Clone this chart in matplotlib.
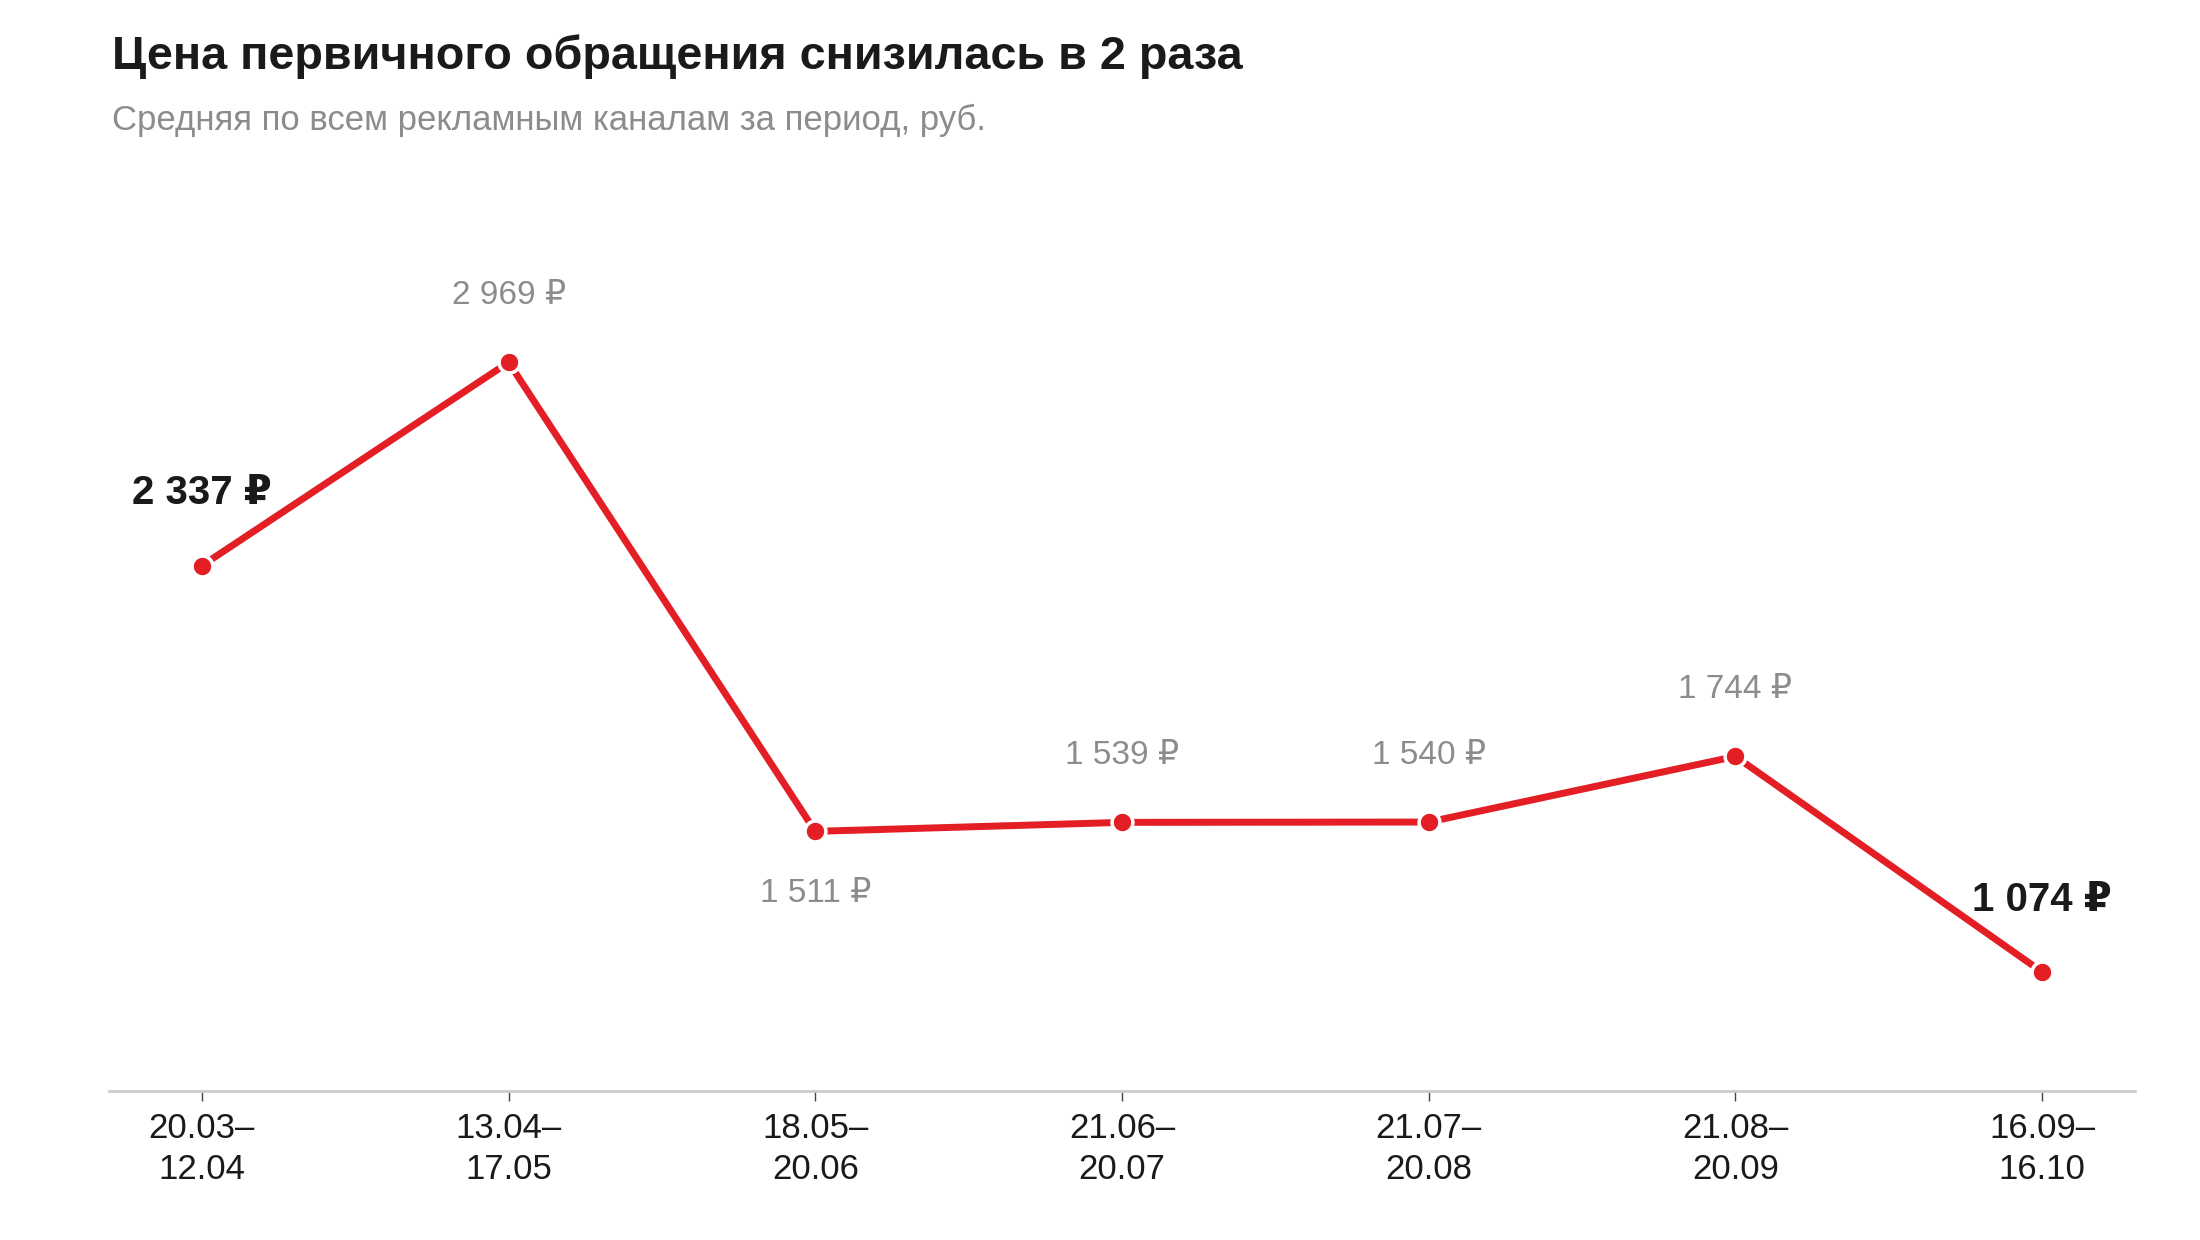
import matplotlib
matplotlib.use("Agg")
import matplotlib.pyplot as plt

plt.rcParams['font.family'] = ['Liberation Sans', 'DejaVu Sans']

periods = ["20.03–\n12.04", "13.04–\n17.05", "18.05–\n20.06", "21.06–\n20.07",
           "21.07–\n20.08", "21.08–\n20.09", "16.09–\n16.10"]
price = [2337, 2969, 1511, 1539, 1540, 1744, 1074]
label_pos = ["above", "above", "below", "above", "above", "above", "above"]
highlight = [True, False, False, False, False, False, True]

red = "#e31e24"
gray = "#8c8c8c"

fig = plt.figure(figsize=(22, 12.4), dpi=100)
# axes box in pixels: x 109..2135, y(top) 288..1091
ax = fig.add_axes([109 / 2200, (1240 - 1091) / 1240, 2026 / 2200, 803 / 1240])

x = list(range(len(price)))
ax.plot(x, price, color=red, lw=5, zorder=2, solid_capstyle="round")
ax.plot(x, price, "o", color=red, ms=15, mec="white", mew=2.5, zorder=3)

for i, v in enumerate(price):
    txt = f"{v:,}".replace(",", " ") + " ₽"
    dy = 48 if label_pos[i] == "above" else -45
    if highlight[i]:
        ax.annotate(txt, (i, v), xytext=(0, 52), textcoords="offset points",
                    ha="center", va="center", fontsize=29, fontweight="bold",
                    color="#1a1a1a")
    else:
        ax.annotate(txt, (i, v), xytext=(0, dy), textcoords="offset points",
                    ha="center", va="center", fontsize=24, color=gray)

ax.set_xlim(-0.303, 6.303)
ax.set_ylim(704, 3200)
ax.set_xticks(x)
ax.set_xticklabels(periods, fontsize=25, color="#1a1a1a", linespacing=1.3)
ax.set_yticks([])
for s in ["top", "right", "left"]:
    ax.spines[s].set_visible(False)
ax.spines["bottom"].set_color("#cccccc")
ax.spines["bottom"].set_linewidth(2)
ax.tick_params(axis="x", length=7, width=1, color="#444444", pad=8)

fig.text(112 / 2200, 1 - 69 / 1240, "Цена первичного обращения снизилась в 2 раза",
         fontsize=33.7, fontweight="bold", color="#1a1a1a", va="baseline")
fig.text(112 / 2200, 1 - 130 / 1240, "Средняя по всем рекламным каналам за период, руб.",
         fontsize=25, color=gray, va="baseline")

fig.savefig("out.png", dpi=100)
